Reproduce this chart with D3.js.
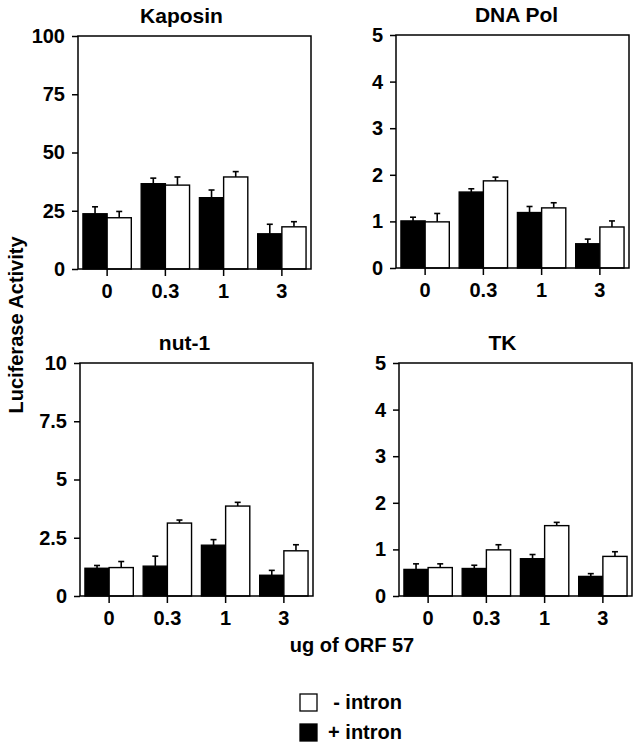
<!DOCTYPE html>
<html>
<head>
<meta charset="utf-8">
<script src="https://cdn.jsdelivr.net/npm/d3@7"></script>
<style>
  body { margin: 0; background: #fff; }
  text { font-family: "Liberation Sans", Arial, Helvetica, sans-serif; font-weight: bold; fill: #000; }
</style>
</head>
<body>
<script>
const width = 642;
const height = 749;

// doses of ORF 57 (ug)
const doses = ["0", "0.3", "1", "3"];

// mean values and error (upper bar length)
const kaposinPlus = [23.7, 36.6, 30.6, 15.1];
const kaposinPlusErr = [3.0, 2.4, 3.3, 4.1];
const kaposinMinus = [22.0, 36.0, 39.5, 18.1];
const kaposinMinusErr = [2.7, 3.5, 2.3, 2.2];

const dnaPolPlus = [1.01, 1.63, 1.19, 0.52];
const dnaPolPlusErr = [0.08, 0.07, 0.13, 0.10];
const dnaPolMinus = [0.99, 1.87, 1.29, 0.88];
const dnaPolMinusErr = [0.18, 0.08, 0.11, 0.13];

const nut1Plus = [1.19, 1.28, 2.18, 0.89];
const nut1PlusErr = [0.12, 0.43, 0.24, 0.21];
const nut1Minus = [1.22, 3.13, 3.86, 1.94];
const nut1MinusErr = [0.26, 0.13, 0.16, 0.26];

const tkPlus = [0.57, 0.59, 0.80, 0.42];
const tkPlusErr = [0.12, 0.07, 0.09, 0.06];
const tkMinus = [0.61, 0.99, 1.51, 0.85];
const tkMinusErr = [0.08, 0.11, 0.07, 0.10];

// y tick labels per panel
const kaposinTicks = [0, 25, 50, 75, 100];
const dnaPolTicks = [0, 1, 2, 3, 4, 5];
const nut1Ticks = [0, 2.5, 5, 7.5, 10];
const tkTicks = [0, 1, 2, 3, 4, 5];

const series = ["+ intron", "- intron"];

const PLOT_W = 233;
const PLOT_H = 233;

const panels = [
    { title: "Kaposin", plus: kaposinPlus, plusErr: kaposinPlusErr, minus: kaposinMinus, minusErr: kaposinMinusErr,
      ticks: kaposinTicks, left: 78, top: 36, titleShift: -13 },
    { title: "DNA Pol", plus: dnaPolPlus, plusErr: dnaPolPlusErr, minus: dnaPolMinus, minusErr: dnaPolMinusErr,
      ticks: dnaPolTicks, left: 396, top: 35, titleShift: 4 },
    { title: "nut-1", plus: nut1Plus, plusErr: nut1PlusErr, minus: nut1Minus, minusErr: nut1MinusErr,
      ticks: nut1Ticks, left: 80, top: 363, titleShift: -12 },
    { title: "TK", plus: tkPlus, plusErr: tkPlusErr, minus: tkMinus, minusErr: tkMinusErr,
      ticks: tkTicks, left: 399, top: 363, titleShift: -13 }
];

var svg = d3.select("body")
    .append("svg")
    .attr("width", width)
    .attr("height", height);

function drawPanel(p) {
    var g = svg.append("g")
        .attr("transform", `translate(${p.left}, ${p.top})`);

    var xScale = d3.scaleBand()
        .domain(doses)
        .range([0, PLOT_W])
        .paddingInner(0.17)
        .paddingOuter(0.085);

    var subScale = d3.scaleBand()
        .domain(series)
        .range([0, xScale.bandwidth()]);

    var yScale = d3.scaleLinear()
        .domain([0, d3.max(p.ticks)])
        .range([PLOT_H, 0]);

    var rows = [];
    doses.forEach(function(d, i) {
        rows.push({ dose: d, s: "+ intron", v: p.plus[i], e: p.plusErr[i] });
        rows.push({ dose: d, s: "- intron", v: p.minus[i], e: p.minusErr[i] });
    });

    // error bars (upper only)
    var err = g.selectAll(".err")
        .data(rows)
        .join("g")
        .attr("class", "err")
        .attr("transform", d => `translate(${xScale(d.dose) + subScale(d.s) + subScale.bandwidth() / 2}, 0)`);

    err.append("line")
        .attr("y1", d => yScale(d.v))
        .attr("y2", d => yScale(d.v + d.e))
        .attr("stroke", "#000")
        .attr("stroke-width", 1.6);

    err.append("line")
        .attr("x1", -3)
        .attr("x2", 3)
        .attr("y1", d => yScale(d.v + d.e))
        .attr("y2", d => yScale(d.v + d.e))
        .attr("stroke", "#000")
        .attr("stroke-width", 1.6);

    // bars
    g.selectAll(".bar")
        .data(rows)
        .join("rect")
        .attr("class", "bar")
        .attr("x", d => xScale(d.dose) + subScale(d.s))
        .attr("y", d => yScale(d.v))
        .attr("width", subScale.bandwidth())
        .attr("height", d => PLOT_H - yScale(d.v))
        .attr("fill", d => d.s === "+ intron" ? "#000" : "#fff")
        .attr("stroke", "#000")
        .attr("stroke-width", 1.4);

    // frame
    g.append("rect")
        .attr("width", PLOT_W)
        .attr("height", PLOT_H)
        .attr("fill", "none")
        .attr("stroke", "#000")
        .attr("stroke-width", 1.5);

    // y axis
    var yAxis = g.append("g")
        .call(d3.axisLeft(yScale).tickValues(p.ticks).tickSize(6).tickPadding(7).tickFormat(d3.format("")));
    yAxis.select(".domain").remove();
    yAxis.selectAll("line").attr("stroke-width", 1.5);
    yAxis.selectAll("text")
        .attr("font-size", "20px")
        .attr("font-family", "Liberation Sans, Arial, sans-serif")
        .attr("font-weight", "bold")
        .attr("fill", "#000");

    // x axis, ticks at group centres
    var xAxis = g.append("g")
        .attr("transform", `translate(0, ${PLOT_H})`)
        .call(d3.axisBottom(xScale).tickSize(7).tickPadding(8));
    xAxis.select(".domain").remove();
    xAxis.selectAll("line").attr("stroke-width", 1.5);
    xAxis.selectAll("text")
        .attr("font-size", "20px")
        .attr("font-family", "Liberation Sans, Arial, sans-serif")
        .attr("font-weight", "bold")
        .attr("fill", "#000");

    // title
    g.append("text")
        .attr("x", PLOT_W / 2 + p.titleShift)
        .attr("y", -13)
        .attr("text-anchor", "middle")
        .attr("font-size", "21px")
        .text(p.title);
}

panels.forEach(drawPanel);

// shared axis labels
svg.append("text")
    .attr("transform", "translate(23, 325) rotate(-90)")
    .attr("text-anchor", "middle")
    .attr("font-size", "20px")
    .text("Luciferase Activity");

svg.append("text")
    .attr("x", 352)
    .attr("y", 652)
    .attr("text-anchor", "middle")
    .attr("font-size", "20px")
    .text("ug of ORF 57");

// legend
var legendItems = [
    { label: "- intron", fill: "#fff" },
    { label: "+ intron", fill: "#000" }
];

var legend = svg.append("g")
    .attr("transform", "translate(300, 694)");

var entries = legend.selectAll("g")
    .data(legendItems)
    .join("g")
    .attr("transform", (d, i) => `translate(0, ${i * 30})`);

entries.append("rect")
    .attr("width", 17)
    .attr("height", 17)
    .attr("fill", d => d.fill)
    .attr("stroke", "#000")
    .attr("stroke-width", 1.3);

entries.append("text")
    .attr("x", 102)
    .attr("y", 15)
    .attr("text-anchor", "end")
    .attr("font-size", "20px")
    .text(d => d.label);
</script>
</body>
</html>
